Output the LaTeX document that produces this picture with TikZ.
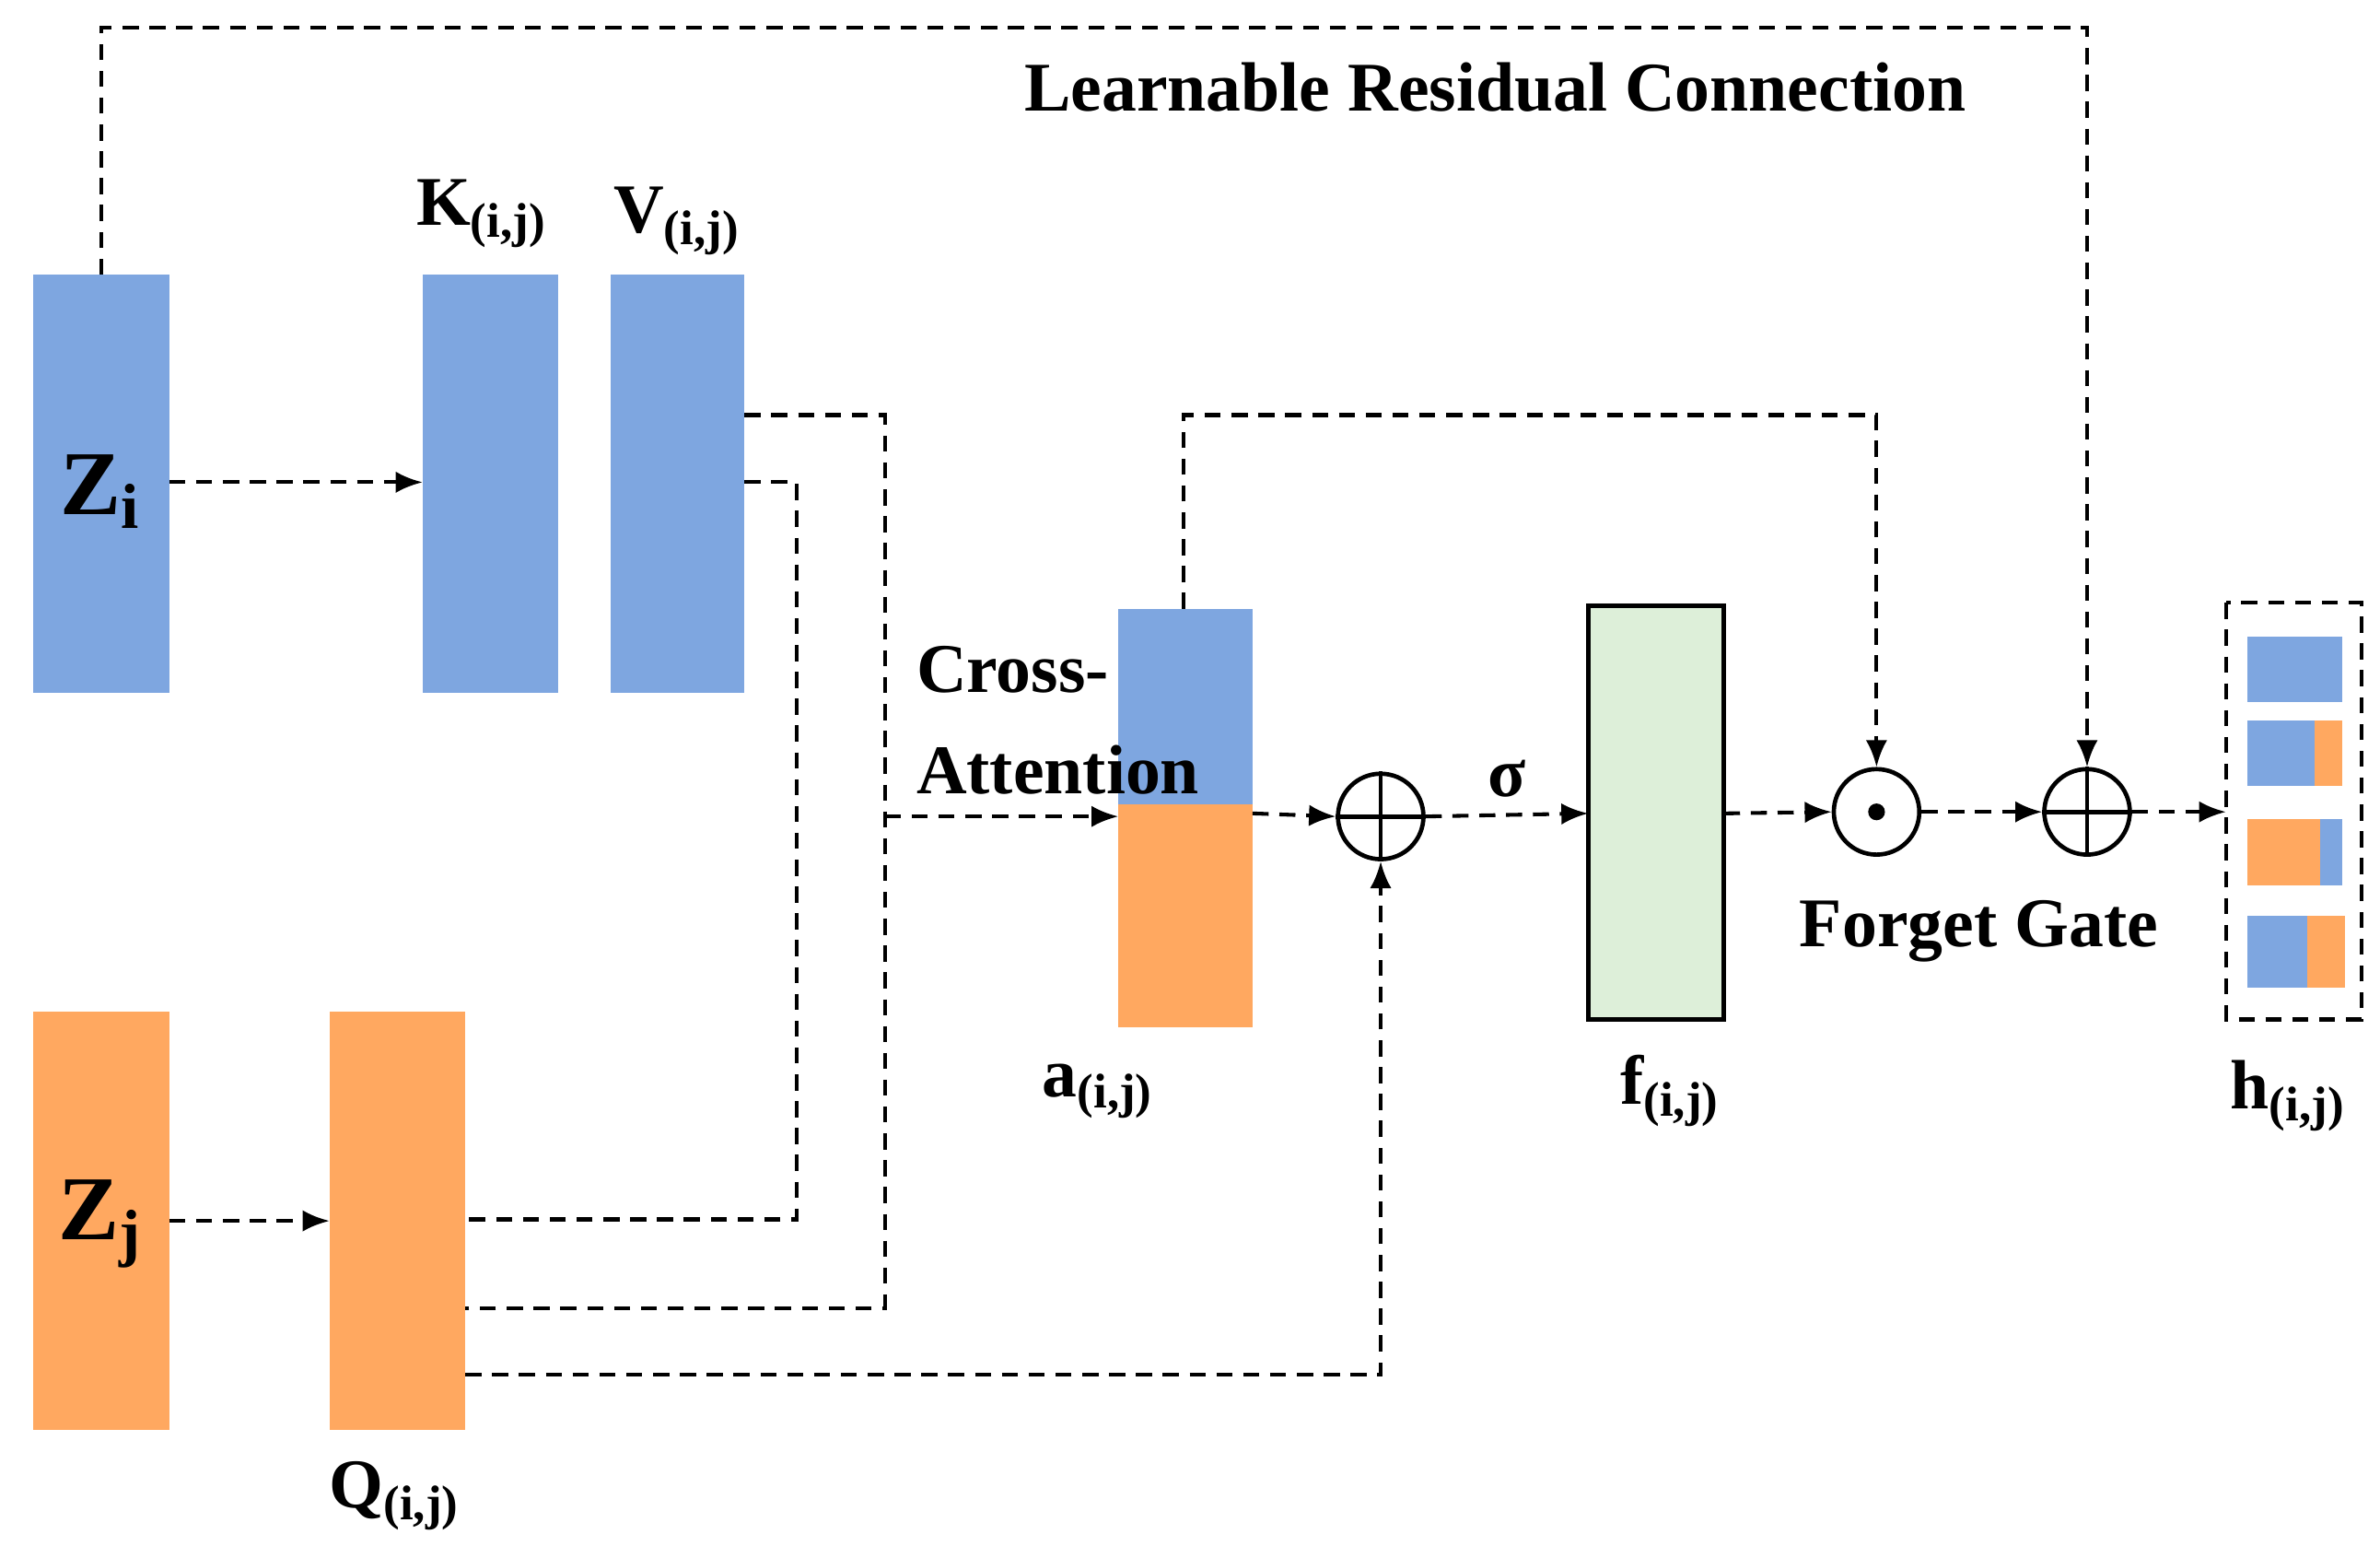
\documentclass[tikz,border=0pt]{standalone}
\usepackage{fontspec}
\setmainfont{Liberation Serif}
\usetikzlibrary{arrows.meta}
\definecolor{bl}{RGB}{126,166,224}
\definecolor{or}{RGB}{255,168,96}
\definecolor{gr}{RGB}{221,239,217}
\begin{document}
\begin{tikzpicture}[x=0.01cm,y=-0.01cm,
  lbl/.style={font=\bfseries\fontsize{13}{15}\selectfont,inner sep=0pt},
  dl/.style={dashed,line width=0.7pt,dash pattern=on 3pt off 2pt},
  ar/.style={dl,-{Latex[length=5pt,width=4pt]}},
  circ/.style={circle,draw,line width=0.8pt,minimum size=0.56cm,inner sep=0pt}]
\useasboundingbox (0,0) rectangle (1560,1013);
% boxes
\fill[bl] (22,180) rectangle (111,454);
\node (zitop) at (66.5,180) {};
\fill[bl] (277,180) rectangle (366,454);
\fill[bl] (400,180) rectangle (488,454);
\fill[or] (22,663) rectangle (111,937);
\fill[or] (216,663) rectangle (305,937);
\fill[bl] (733,399) rectangle (821,527);
\fill[or] (733,527) rectangle (821,673);
\filldraw[fill=gr,draw=black,line width=0.8pt] (1041,397) rectangle (1130,668);
% labels
\node[lbl,font=\bfseries\fontsize{17}{19}\selectfont] at (66,322) {Z\textsubscript{i}};
\node[lbl,font=\bfseries\fontsize{17}{19}\selectfont] at (66,802) {Z\textsubscript{j}};
\node[lbl] at (316,140) {K\textsubscript{(i,j)}};
\node[lbl] at (444,145) {V\textsubscript{(i,j)}};
\node[lbl] at (259,980) {Q\textsubscript{(i,j)}};
\node[lbl] at (720,715) {a\textsubscript{(i,j)}};
\node[lbl] at (1095,715) {f\textsubscript{(i,j)}};
\node[lbl] at (1500,718) {h\textsubscript{(i,j)}};
\node[lbl,anchor=west,align=left] at (600,472) {Cross-\\[4pt]Attention};
\node[lbl] at (988,510) {σ};
\node[lbl] at (1297,610) {Forget Gate};
\node[lbl] at (980,57) {Learnable Residual Connection};
% circles
\node[circ] (p1) at (905,535) {};
\draw[line width=0.8pt] (p1.north)--(p1.south) (p1.west)--(p1.east);
\node[circ] (od) at (1230,532) {};
\fill (od) circle (0.055cm);
\node[circ] (p2) at (1368,532) {};
\draw[line width=0.8pt] (p2.north)--(p2.south) (p2.west)--(p2.east);
% h box
\draw[dl] (1459,395) rectangle (1548,668);
\coordinate (hin) at (1459,532);
\fill[bl] (1473,417) rectangle (1535,460);
\fill[bl] (1473,472) rectangle (1517,515); \fill[or] (1517,472) rectangle (1535,515);
\fill[or] (1473,537) rectangle (1521,580); \fill[bl] (1521,537) rectangle (1535,580);
\fill[bl] (1473,600) rectangle (1512,647); \fill[or] (1512,600) rectangle (1537,647);
% connectors
\draw[ar] (111,316) -- (277,316);
\draw[ar] (111,800) -- (216,800);
\draw[dl] (488,272) -- (580,272) -- (580,857) -- (305,857);
\draw[dl] (488,316) -- (522,316) -- (522,799) -- (305,799);
\draw[ar] (580,535) -- (733,535);
\draw[ar] (305,901) -- (905,901) -- (p1.south);
\draw[ar] (821,533) -- (p1.west);
\draw[ar] (p1.east) -- (1041,533);
\draw[ar] (1130,533) -- (od.west);
\draw[ar] (776,399) -- (776,272) -- (1230,272) -- (od.north);
\draw[ar] (od.east) -- (p2.west);
\draw[ar] (p2.east) -- (hin);
\draw[ar] (zitop.center) -- (66.5,18) -- (1368,18) -- (p2.north);
\end{tikzpicture}
\end{document}
